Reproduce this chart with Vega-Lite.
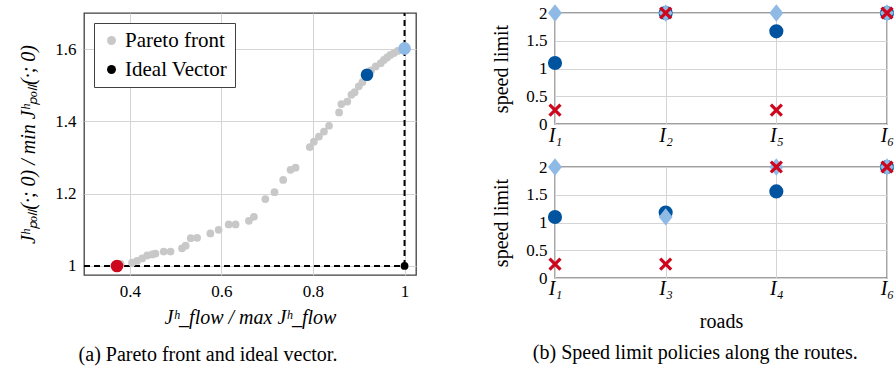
{
  "$schema": "https://vega.github.io/schema/vega-lite/v6.json",
  "background": "white",
  "padding": {"left": 18, "top": 0, "right": 0, "bottom": 0},
  "config": {
    "font": "Liberation Serif",
    "view": {"stroke": "#404040", "strokeWidth": 1.3},
    "axis": {
      "labelFont": "Liberation Serif", "titleFont": "Liberation Serif",
      "labelFontSize": 17, "titleFontSize": 20, "titleFontWeight": "normal",
      "labelColor": "#000", "titleColor": "#000",
      "gridColor": "#d4d4d4", "gridWidth": 1, "ticks": false, "domain": false,
      "labelPadding": 8
    },
    "legend": {
      "labelFont": "Liberation Serif", "labelFontSize": 20, "labelColor": "#000"
    },
    "title": {"font": "Liberation Serif", "fontSize": 20, "fontWeight": "normal", "color": "#000"}
  },
  "datasets": {
    "pareto": [
      {"flow": 0.38, "poll": 1.006, "series": "Pareto front"},
      {"flow": 0.405, "poll": 1.009, "series": "Pareto front"},
      {"flow": 0.416, "poll": 1.014, "series": "Pareto front"},
      {"flow": 0.427, "poll": 1.021, "series": "Pareto front"},
      {"flow": 0.438, "poll": 1.029, "series": "Pareto front"},
      {"flow": 0.449, "poll": 1.032, "series": "Pareto front"},
      {"flow": 0.456, "poll": 1.034, "series": "Pareto front"},
      {"flow": 0.474, "poll": 1.04, "series": "Pareto front"},
      {"flow": 0.489, "poll": 1.04, "series": "Pareto front"},
      {"flow": 0.514, "poll": 1.049, "series": "Pareto front"},
      {"flow": 0.522, "poll": 1.056, "series": "Pareto front"},
      {"flow": 0.533, "poll": 1.077, "series": "Pareto front"},
      {"flow": 0.547, "poll": 1.078, "series": "Pareto front"},
      {"flow": 0.576, "poll": 1.09, "series": "Pareto front"},
      {"flow": 0.594, "poll": 1.1, "series": "Pareto front"},
      {"flow": 0.616, "poll": 1.115, "series": "Pareto front"},
      {"flow": 0.631, "poll": 1.115, "series": "Pareto front"},
      {"flow": 0.66, "poll": 1.125, "series": "Pareto front"},
      {"flow": 0.671, "poll": 1.136, "series": "Pareto front"},
      {"flow": 0.696, "poll": 1.185, "series": "Pareto front"},
      {"flow": 0.716, "poll": 1.204, "series": "Pareto front"},
      {"flow": 0.735, "poll": 1.238, "series": "Pareto front"},
      {"flow": 0.751, "poll": 1.266, "series": "Pareto front"},
      {"flow": 0.762, "poll": 1.272, "series": "Pareto front"},
      {"flow": 0.793, "poll": 1.329, "series": "Pareto front"},
      {"flow": 0.802, "poll": 1.344, "series": "Pareto front"},
      {"flow": 0.813, "poll": 1.358, "series": "Pareto front"},
      {"flow": 0.824, "poll": 1.372, "series": "Pareto front"},
      {"flow": 0.835, "poll": 1.388, "series": "Pareto front"},
      {"flow": 0.857, "poll": 1.425, "series": "Pareto front"},
      {"flow": 0.862, "poll": 1.448, "series": "Pareto front"},
      {"flow": 0.875, "poll": 1.455, "series": "Pareto front"},
      {"flow": 0.884, "poll": 1.474, "series": "Pareto front"},
      {"flow": 0.891, "poll": 1.481, "series": "Pareto front"},
      {"flow": 0.9, "poll": 1.497, "series": "Pareto front"},
      {"flow": 0.908, "poll": 1.509, "series": "Pareto front"},
      {"flow": 0.927, "poll": 1.541, "series": "Pareto front"},
      {"flow": 0.937, "poll": 1.552, "series": "Pareto front"},
      {"flow": 0.948, "poll": 1.561, "series": "Pareto front"},
      {"flow": 0.955, "poll": 1.57, "series": "Pareto front"},
      {"flow": 0.962, "poll": 1.577, "series": "Pareto front"},
      {"flow": 0.969, "poll": 1.584, "series": "Pareto front"},
      {"flow": 0.977, "poll": 1.589, "series": "Pareto front"},
      {"flow": 0.985, "poll": 1.595, "series": "Pareto front"},
      {"flow": 1.0, "poll": 1.0, "series": "Ideal Vector"}
    ],
    "highlight": [
      {"flow": 0.372, "poll": 1.0, "solution": "min pollution"},
      {"flow": 0.918, "poll": 1.529, "solution": "compromise"},
      {"flow": 1.0, "poll": 1.602, "solution": "max flow"}
    ],
    "guides": [
      {"x": 0.3, "x2": 1.0, "y": 1.0, "y2": 1.0},
      {"x": 1.0, "x2": 1.0, "y": 1.0, "y2": 1.7}
    ],
    "speeds": [
      {"route": 1, "road": "I₁", "policy": "compromise", "speed": 1.1},
      {"route": 1, "road": "I₂", "policy": "compromise", "speed": 2},
      {"route": 1, "road": "I₅", "policy": "compromise", "speed": 1.67},
      {"route": 1, "road": "I₆", "policy": "compromise", "speed": 2},
      {"route": 1, "road": "I₁", "policy": "max flow", "speed": 2},
      {"route": 1, "road": "I₂", "policy": "max flow", "speed": 2},
      {"route": 1, "road": "I₅", "policy": "max flow", "speed": 2},
      {"route": 1, "road": "I₆", "policy": "max flow", "speed": 2},
      {"route": 1, "road": "I₁", "policy": "min pollution", "speed": 0.25},
      {"route": 1, "road": "I₂", "policy": "min pollution", "speed": 2},
      {"route": 1, "road": "I₅", "policy": "min pollution", "speed": 0.25},
      {"route": 1, "road": "I₆", "policy": "min pollution", "speed": 2},
      {"route": 2, "road": "I₁", "policy": "compromise", "speed": 1.1},
      {"route": 2, "road": "I₃", "policy": "compromise", "speed": 1.18},
      {"route": 2, "road": "I₄", "policy": "compromise", "speed": 1.56},
      {"route": 2, "road": "I₆", "policy": "compromise", "speed": 2},
      {"route": 2, "road": "I₁", "policy": "max flow", "speed": 2},
      {"route": 2, "road": "I₃", "policy": "max flow", "speed": 1.1},
      {"route": 2, "road": "I₄", "policy": "max flow", "speed": 2},
      {"route": 2, "road": "I₆", "policy": "max flow", "speed": 2},
      {"route": 2, "road": "I₁", "policy": "min pollution", "speed": 0.25},
      {"route": 2, "road": "I₃", "policy": "min pollution", "speed": 0.25},
      {"route": 2, "road": "I₄", "policy": "min pollution", "speed": 2},
      {"route": 2, "road": "I₆", "policy": "min pollution", "speed": 2}
    ]
  },
  "spacing": 74,
  "hconcat": [
    {
      "width": 332,
      "height": 262,
      "title": {"text": "(a) Pareto front and ideal vector.", "orient": "bottom", "anchor": "middle", "dx": -42, "offset": 18, "font": "Liberation Serif"},
      "layer": [
        {
          "data": {"name": "guides"},
          "mark": {"type": "rule", "strokeDash": [6, 4], "strokeWidth": 2, "color": "#000"},
          "encoding": {
            "x": {"field": "x", "type": "quantitative",
                  "scale": {"domain": [0.3, 1.025], "nice": false, "zero": false},
                  "axis": {"values": [0.4, 0.6, 0.8, 1], "format": "~g", "grid": true, "labelFont": "Liberation Serif", "titleFont": "Liberation Serif",
                           "title": "Jʰ_flow / max Jʰ_flow", "titleFontSize": 20, "titleFontStyle": "italic", "titlePadding": 8}},
            "x2": {"field": "x2"},
            "y": {"field": "y", "type": "quantitative",
                  "scale": {"domain": [0.975, 1.7], "nice": false, "zero": false},
                  "axis": {"values": [1, 1.2, 1.4, 1.6], "format": "~g", "grid": true, "labelFont": "Liberation Serif", "titleFont": "Liberation Serif",
                           "title": "Jʰₚₒₗₗ(·; 0) / min Jʰₚₒₗₗ(·; 0)", "titleFontSize": 20, "titleFontStyle": "italic", "titlePadding": 16}},
            "y2": {"field": "y2"}
          }
        },
        {
          "data": {"name": "pareto"},
          "mark": {"type": "circle", "size": 60, "opacity": 1},
          "encoding": {
            "x": {"field": "flow", "type": "quantitative"},
            "y": {"field": "poll", "type": "quantitative"},
            "color": {"field": "series", "type": "nominal",
                      "scale": {"domain": ["Pareto front", "Ideal Vector"], "range": ["#c8c8c8", "#000000"]},
                      "legend": {"title": null, "orient": "top-left", "offset": 10, "strokeColor": "#404040", "fillColor": "#ffffff",
                                 "labelFont": "Liberation Serif", "labelFontSize": 21,
                                 "padding": 7, "rowPadding": 7, "symbolType": "circle", "symbolSize": 80, "symbolStrokeWidth": 0, "labelOffset": 3}}
          }
        },
        {
          "data": {"name": "highlight"},
          "mark": {"type": "circle", "size": 160, "opacity": 1},
          "encoding": {
            "x": {"field": "flow", "type": "quantitative"},
            "y": {"field": "poll", "type": "quantitative"},
            "fill": {"field": "solution", "type": "nominal",
                     "scale": {"domain": ["min pollution", "compromise", "max flow"], "range": ["#cc071e", "#00549f", "#8ebae5"]},
                     "legend": null}
          }
        }
      ]
    },
    {
      "title": {"text": "(b) Speed limit policies along the routes.", "orient": "bottom", "anchor": "middle", "offset": 11, "font": "Liberation Serif"},
      "spacing": 8,
      "vconcat": [
        {
          "width": 332,
          "height": 111,
          "data": {"name": "speeds"},
          "transform": [{"filter": "datum.route == 1"}],
          "encoding": {
            "x": {"field": "road", "type": "ordinal",
                  "scale": {"type": "point", "padding": 0, "domain": ["I₁", "I₂", "I₅", "I₆"]},
                  "axis": {"grid": true, "title": null, "labelAngle": 0, "labelFont": "Liberation Serif", "labelFontStyle": "italic", "labelFontSize": 20, "labelPadding": 1}},
            "y": {"field": "speed", "type": "quantitative",
                  "scale": {"domain": [0, 2], "nice": false},
                  "axis": {"values": [0, 0.5, 1, 1.5, 2], "format": "~g", "grid": true, "labelFont": "Liberation Serif", "titleFont": "Liberation Serif", "title": "speed limit", "titlePadding": 14}}
          },
          "layer": [
            {"transform": [{"filter": "datum.policy == 'compromise'"}],
             "mark": {"type": "circle", "size": 200, "opacity": 1, "color": "#00549f"}},
            {"transform": [{"filter": "datum.policy == 'max flow'"}],
             "mark": {"type": "point", "shape": "M0,-1L0.8,0L0,1L-0.8,0Z", "size": 300, "filled": true, "opacity": 1, "color": "#8ebae5"}},
            {"transform": [{"filter": "datum.policy == 'min pollution'"}],
             "mark": {"type": "point", "shape": "M-1,-1L1,1M-1,1L1,-1", "size": 120, "filled": false, "opacity": 1, "strokeWidth": 3.2, "color": "#cc071e"}}
          ]
        },
        {
          "width": 332,
          "height": 111,
          "data": {"name": "speeds"},
          "transform": [{"filter": "datum.route == 2"}],
          "encoding": {
            "x": {"field": "road", "type": "ordinal",
                  "scale": {"type": "point", "padding": 0, "domain": ["I₁", "I₃", "I₄", "I₆"]},
                  "axis": {"grid": true, "title": "roads", "titlePadding": 13, "labelAngle": 0, "labelFont": "Liberation Serif", "titleFont": "Liberation Serif", "labelFontStyle": "italic", "labelFontSize": 20, "labelPadding": 0}},
            "y": {"field": "speed", "type": "quantitative",
                  "scale": {"domain": [0, 2], "nice": false},
                  "axis": {"values": [0, 0.5, 1, 1.5, 2], "format": "~g", "grid": true, "labelFont": "Liberation Serif", "titleFont": "Liberation Serif", "title": "speed limit", "titlePadding": 14}}
          },
          "layer": [
            {"transform": [{"filter": "datum.policy == 'compromise'"}],
             "mark": {"type": "circle", "size": 200, "opacity": 1, "color": "#00549f"}},
            {"transform": [{"filter": "datum.policy == 'max flow'"}],
             "mark": {"type": "point", "shape": "M0,-1L0.8,0L0,1L-0.8,0Z", "size": 300, "filled": true, "opacity": 1, "color": "#8ebae5"}},
            {"transform": [{"filter": "datum.policy == 'min pollution'"}],
             "mark": {"type": "point", "shape": "M-1,-1L1,1M-1,1L1,-1", "size": 120, "filled": false, "opacity": 1, "strokeWidth": 3.2, "color": "#cc071e"}}
          ]
        }
      ]
    }
  ]
}
